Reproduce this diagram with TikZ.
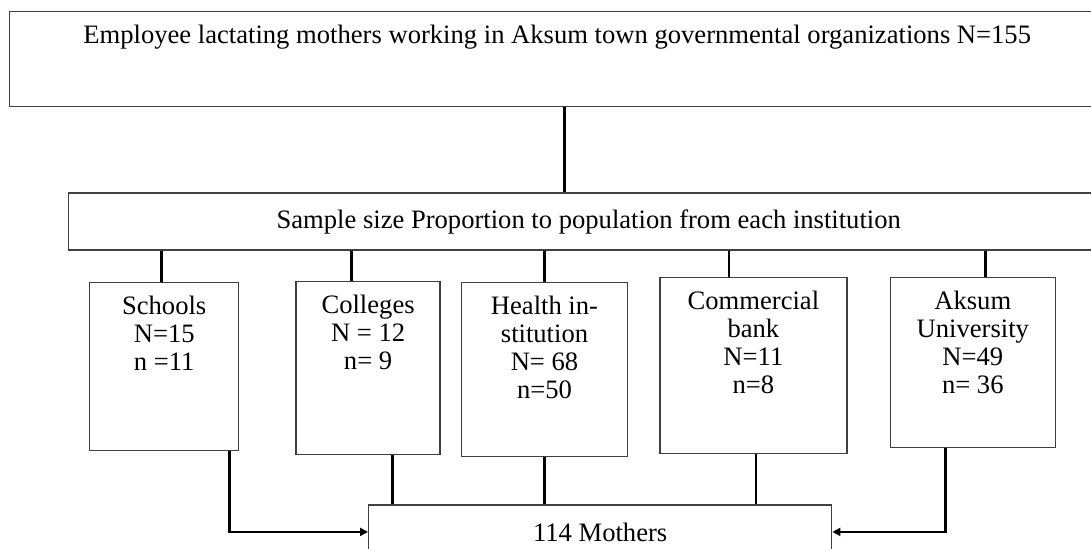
\documentclass[tikz,border=0pt]{standalone}
\usepackage{fontspec}
\setmainfont{Liberation Serif}
\usetikzlibrary{arrows.meta,positioning}
\definecolor{Frame}{HTML}{404040}
\definecolor{Wire}{HTML}{000000}
\newcommand{\unittext}[3]{\parbox[t][#2][t]{#1}{\centering\rule{0pt}{16pt}#3}}
\tikzset{
  tallbox/.style={
    draw=Frame, line width=0.7pt, inner sep=0pt,
    font=\fontsize{13.3}{14}\selectfont
  },
  bandbox/.style={
    draw=Frame, line width=0.7pt, inner sep=0pt, align=center,
    font=\fontsize{13.3}{14}\selectfont
  },
  link/.style={draw=Wire, line width=1.4pt},
  arrowlink/.style={link, -{Triangle[length=4pt,width=4pt]}}
}

\begin{document}
\begin{tikzpicture}
    \useasboundingbox (0,0) rectangle (545.5pt,-274pt);
    \node[tallbox,anchor=north west] (cohort) at (4.5pt,-5.5pt)
      {\unittext{547.5pt}{47.5pt}{Employee lactating mothers working in Aksum town governmental organizations N=155}};
    \node[bandbox,minimum width=520pt,minimum height=28.5pt,
      below right=42.5pt and 29.5pt of cohort.south west] (sampling)
      {Sample size Proportion to population from each institution};
    \node[tallbox,below right=15.5pt and 10.5pt of sampling.south west] (schools)
      {\unittext{74.5pt}{84pt}{Schools\\N=15\\n =11}};
    \node[tallbox,right=28pt of schools.north east,anchor=north west,yshift=0.5pt] (colleges)
      {\unittext{72pt}{86.5pt}{Colleges\\N = 12\\n= 9}};
    \node[tallbox,right=10pt of colleges.north east,anchor=north west,yshift=-0.5pt] (health)
      {\unittext{83pt}{87pt}{Health in-\\stitution\\N= 68\\n=50}};
    \node[tallbox,right=15.5pt of health.north east,anchor=north west,yshift=2.5pt] (bank)
      {\unittext{93.5pt}{88pt}{Commercial\\bank\\N=11\\n=8}};
    \node[tallbox,right=21pt of bank.north east,anchor=north west] (univ)
      {\unittext{82.5pt}{85pt}{Aksum\\University\\N=49\\n= 36}};
    \node[bandbox,minimum width=231.5pt,minimum height=27pt,
      below right=26.5pt and 139.5pt of schools.south west] (mothers) {114 Mothers};
    \draw[link] ([xshift=3.75pt]cohort.south) -- ([xshift=3.75pt]cohort.south |- sampling.north);
    \draw[link] ([xshift=-1.25pt]schools.north) -- ([xshift=-1.25pt]schools.north |- sampling.south);
    \draw[link] ([xshift=-8.5pt]colleges.north) -- ([xshift=-8.5pt]colleges.north |- sampling.south);
    \draw[link] (health.north) -- (health.north |- sampling.south);
    \draw[link] ([xshift=-12.25pt]bank.north) -- ([xshift=-12.25pt]bank.north |- sampling.south);
    \draw[link] ([xshift=6.25pt]univ.north) -- ([xshift=6.25pt]univ.north |- sampling.south);
    \draw[arrowlink] ([xshift=-5pt]schools.south east) |- (mothers.west);
    \draw[link] ([xshift=12pt]colleges.south) -- ([xshift=12pt]colleges.south |- mothers.north);
    \draw[link] (health.south) -- (health.south |- mothers.north);
    \draw[link] ([xshift=1.25pt]bank.south) -- ([xshift=1.25pt]bank.south |- mothers.north);
    \draw[arrowlink] ([xshift=28pt]univ.south west) |- (mothers.east);
  \end{tikzpicture}
\end{document}
